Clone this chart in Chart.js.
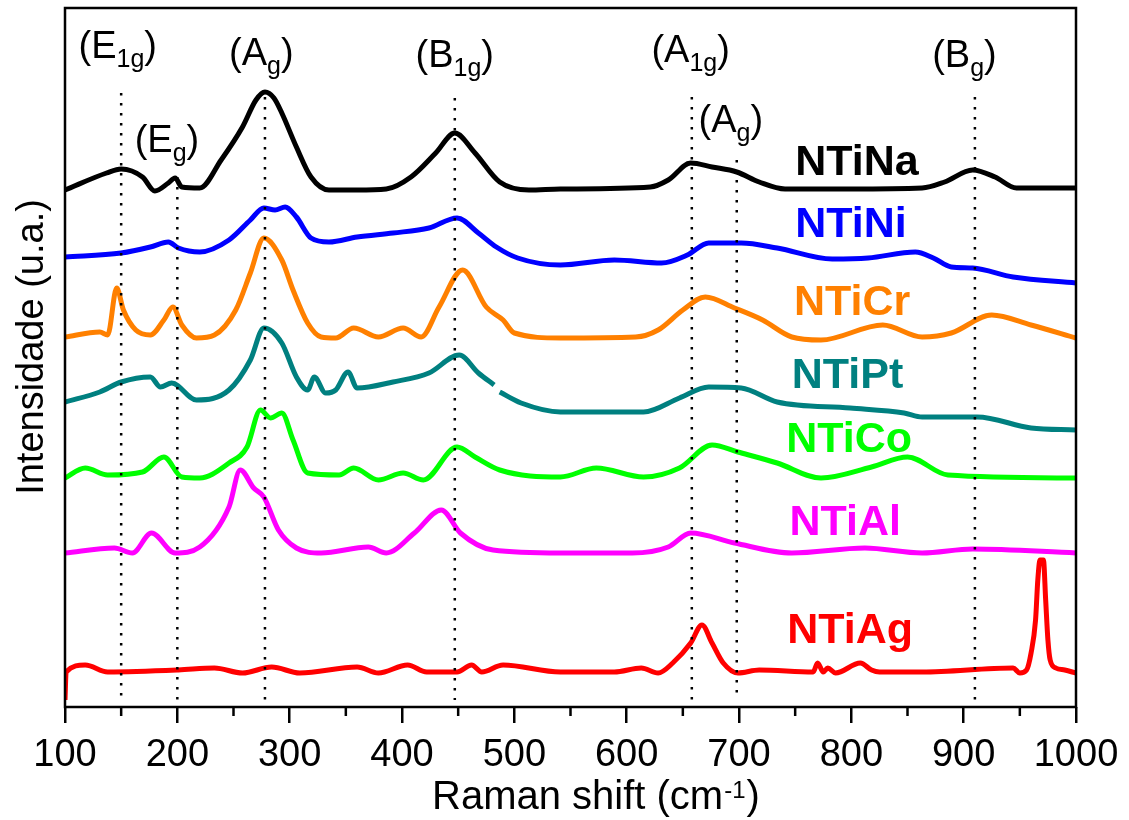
<!DOCTYPE html>
<html>
<head>
<meta charset="utf-8">
<script src="https://cdn.jsdelivr.net/npm/chart.js@4.4.1/dist/chart.umd.min.js"></script>
<style>
  html, body { margin: 0; padding: 0; background: #fff; }
  #wrap { width: 1129px; height: 820px; }
</style>
</head>
<body>
<div id="wrap"><canvas id="grafico" width="1129" height="820"></canvas></div>
<script>
const FONTE = "'Liberation Sans', Arial, sans-serif";

// espectros Raman (deslocamento em cm-1, intensidade u.a. já com offset)
const naShift = [100,137,150,169,180,192,198,204,220,239,258,270,278,286,293,306,319,335,360,386,408,430,447,465,487,513,541,621,637,657,676,698,718,741,799,863,883,908,928,947,1000];
const naInt   = [517,534,538,530,516,524,529,520,519,547,580,607,615,609,594,560,530,517,517,518,530,554,574,554,525,517,518,520,527,544,540,535,525,518,518,519,525,537,530,519,519];

const niShift = [100,150,176,192,201,220,246,265,277,287,296,306,319,335,360,392,424,449,468,484,503,541,589,631,654,673,702,734,783,815,857,873,889,908,944,1000];
const niInt   = [450,454,460,465,459,455,467,487,499,497,500,490,469,465,470,474,479,489,474,460,449,442,447,444,452,464,464,459,448,449,455,449,440,439,430,424];

const crShift = [100,131,138,146,152,163,176,188,196,204,217,233,252,265,277,293,303,316,328,341,357,379,401,417,433,454,475,490,500,541,608,628,650,670,696,721,747,773,828,863,889,925,960,1000];
const crInt   = [370,375,372,419,397,377,372,387,400,382,369,372,397,434,469,447,417,384,370,369,379,370,379,370,400,437,400,387,374,369,370,377,397,410,399,387,370,367,382,370,374,392,382,369];

const ptShift = [100,131,150,176,185,195,217,246,265,277,293,306,316,322,332,341,352,360,392,424,451,468,482,484,487,506,541,615,647,673,702,734,799,847,863,912,960,1000];
const ptInt   = [305,315,325,330,320,324,307,317,347,379,364,330,317,330,314,317,335,319,325,334,352,334,322,null,315,304,295,295,309,320,319,305,299,294,290,290,279,277];

const coShift = [100,118,138,169,188,204,220,246,262,274,283,293,303,316,344,357,379,401,419,449,465,487,541,573,615,647,676,699,734,773,818,850,886,1000];
const coInt   = [229,239,232,235,250,230,229,244,260,297,289,294,267,234,232,239,227,234,227,260,250,237,230,239,230,239,262,255,244,229,240,250,232,229];

const alShift = [100,144,160,177,198,220,246,256,268,277,290,306,328,370,386,411,435,452,481,541,605,637,657,696,747,812,863,908,1000];
const alInt   = [154,159,154,174,154,160,200,237,219,210,177,159,154,160,154,174,197,174,157,154,154,160,174,164,154,159,154,158,154];

const agShift = [100,101,118,138,201,233,258,284,309,360,379,405,422,449,462,471,490,541,589,613,628,641,657,667,676,686,699,718,766,770,775,779,786,808,818,825,863,944,950,956,960,964,966,968,971,973,975,977,982,990,1000];
const agInt   = [7,35,42,35,37,39,34,40,34,40,34,42,35,35,42,35,42,35,35,39,34,44,64,82,64,44,34,37,35,44,35,39,34,44,37,35,35,39,34,37,54,87,127,147,147,107,67,47,39,37,34];

const nomes  = ['NTiNa', 'NTiNi', 'NTiCr', 'NTiPt', 'NTiCo', 'NTiAl', 'NTiAg'];
const cores  = ['#000000', '#0000ff', '#ff8000', '#008080', '#00ff00', '#ff00ff', '#ff0000'];
const shifts = [naShift, niShift, crShift, ptShift, coShift, alShift, agShift];
const ints   = [naInt, niInt, crInt, ptInt, coInt, alInt, agInt];

// posição dos nomes das amostras (cm-1, intensidade da linha de base do texto)
const rotuloShift = [750, 750, 749, 747, 742, 745, 743];
const rotuloInt   = [532, 470, 392, 319, 255, 172, 64];

// modos vibracionais: linha pontilhada e rótulo
const modoLetra  = ['E', 'E', 'A', 'B', 'A', 'A', 'B'];
const modoIndice = ['1g', 'g', 'g', '1g', '1g', 'g', 'g'];
const modoShift  = [150, 200, 278, 447, 658, 698, 910];
const modoTopo   = [614, 530, 610, 609, 610, 547, 610];
const modoBase   = 7;
const modoTxtShift = [112, 162, 246, 412, 622, 664, 872];
const modoTxtInt   = [649, 555, 642, 640, 645, 575, 640];

const minorTicks = [150, 250, 350, 450, 550, 650, 750, 850, 950];

function desenharModo(ctx, px, py, letra, indice) {
  ctx.font = '38px ' + FONTE;
  ctx.fillText('(' + letra, px, py);
  let w = ctx.measureText('(' + letra).width;
  ctx.font = '25px ' + FONTE;
  ctx.fillText(indice, px + w, py + 9);
  w += ctx.measureText(indice).width;
  ctx.font = '38px ' + FONTE;
  ctx.fillText(')', px + w, py);
}

const anotacoes = {
  id: 'anotacoes',
  afterDatasetsDraw(chart) {
    const { ctx, chartArea, scales: { x, y } } = chart;
    ctx.save();

    // linhas pontilhadas
    ctx.strokeStyle = '#000';
    ctx.lineWidth = 2.5;
    ctx.setLineDash([2.5, 7.5]);
    modoShift.forEach((s, i) => {
      const px = x.getPixelForValue(s);
      ctx.beginPath();
      ctx.moveTo(px, y.getPixelForValue(modoTopo[i]));
      ctx.lineTo(px, y.getPixelForValue(modoBase));
      ctx.stroke();
    });
    ctx.setLineDash([]);

    // rótulos dos modos
    ctx.fillStyle = '#000';
    ctx.textAlign = 'left';
    ctx.textBaseline = 'alphabetic';
    modoLetra.forEach((l, i) => {
      desenharModo(ctx, x.getPixelForValue(modoTxtShift[i]), y.getPixelForValue(modoTxtInt[i]), l, modoIndice[i]);
    });

    // nomes das amostras
    ctx.font = 'bold 43px ' + FONTE;
    nomes.forEach((n, i) => {
      ctx.fillStyle = cores[i];
      ctx.fillText(n, x.getPixelForValue(rotuloShift[i]), y.getPixelForValue(rotuloInt[i]));
    });

    // moldura
    ctx.strokeStyle = '#000';
    ctx.lineWidth = 2.5;
    ctx.strokeRect(chartArea.left, chartArea.top, chartArea.right - chartArea.left, chartArea.bottom - chartArea.top);

    // ticks menores
    minorTicks.forEach(v => {
      const px = x.getPixelForValue(v);
      ctx.beginPath();
      ctx.moveTo(px, chartArea.bottom);
      ctx.lineTo(px, chartArea.bottom + 9);
      ctx.stroke();
    });

    // título do eixo x com sobrescrito
    ctx.fillStyle = '#000';
    const tx = chartArea.left + 367;
    const ty = chartArea.bottom + 102;
    ctx.font = '40px ' + FONTE;
    ctx.fillText('Raman shift (cm', tx, ty);
    let w = ctx.measureText('Raman shift (cm').width;
    ctx.font = '24px ' + FONTE;
    ctx.fillText('-1', tx + w + 1, ty - 11);
    w += ctx.measureText('-1').width + 2;
    ctx.font = '40px ' + FONTE;
    ctx.fillText(')', tx + w, ty);

    // título do eixo y
    ctx.translate(43, 347);
    ctx.rotate(-Math.PI / 2);
    ctx.textAlign = 'center';
    ctx.font = '38px ' + FONTE;
    ctx.fillText('Intensidade (u.a.)', 0, 0);

    ctx.restore();
  }
};

const ctx = document.getElementById('grafico').getContext('2d');
const grafico = new Chart(ctx, {
  type: 'line',
  data: {
    datasets: nomes.map((n, i) => ({
      label: n,
      data: shifts[i].map((s, j) => ({ x: s, y: ints[i][j] })),
      borderColor: cores[i],
      borderWidth: 5,
      pointRadius: 0,
      fill: false,
      spanGaps: false,
      cubicInterpolationMode: 'monotone'
    }))
  },
  options: {
    responsive: false,
    animation: false,
    devicePixelRatio: 1,
    layout: { padding: { left: 0, right: 53, top: 8, bottom: 0 } },
    plugins: { legend: { display: false }, tooltip: { enabled: false } },
    scales: {
      x: {
        type: 'linear',
        min: 100,
        max: 1000,
        ticks: {
          stepSize: 100,
          color: '#000',
          font: { family: FONTE, size: 38 },
          maxRotation: 0,
          padding: 10,
          callback: v => String(v)
        },
        grid: { drawOnChartArea: false, tickLength: 16, lineWidth: 2.5, tickWidth: 2.5, color: '#000', tickColor: '#000' },
        border: { display: false },
        afterFit: s => { s.height = 113; }
      },
      y: {
        min: 0,
        max: 699,
        ticks: { display: false },
        grid: { display: false },
        border: { display: false },
        afterFit: s => { s.width = 65; }
      }
    }
  },
  plugins: [anotacoes]
});
</script>
</body>
</html>
